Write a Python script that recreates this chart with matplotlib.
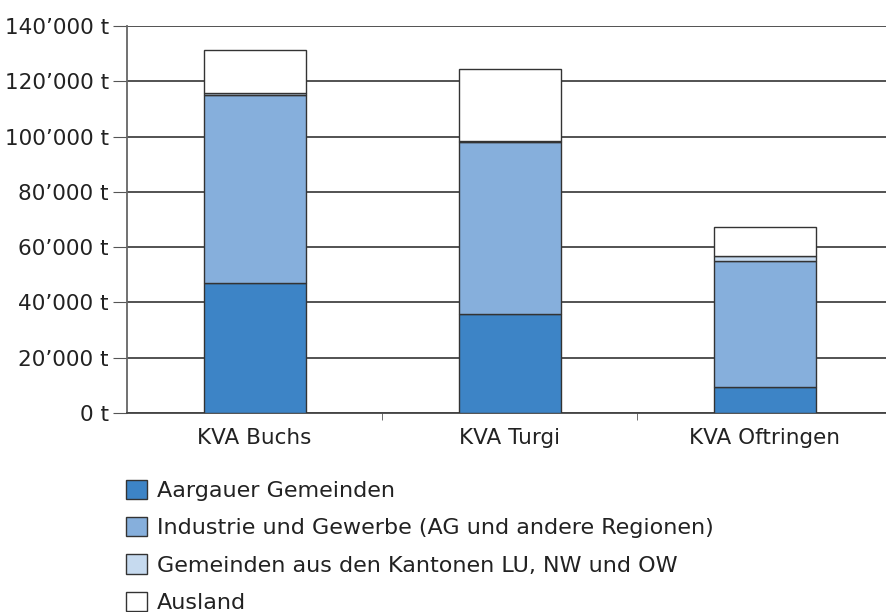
import matplotlib
matplotlib.use("Agg")
import matplotlib.pyplot as plt
import numpy as np
from matplotlib.ticker import FuncFormatter

plt.rcParams["font.family"] = ["DejaVu Sans"]

plants = ["KVA Buchs", "KVA Turgi", "KVA Oftringen"]
series_names = [
    "Aargauer Gemeinden",
    "Industrie und Gewerbe (AG und andere Regionen)",
    "Gemeinden aus den Kantonen LU, NW und OW",
    "Ausland",
]
aargau = [47000, 35800, 9400]
industrie = [68000, 62200, 45600]
kantone = [600, 500, 1800]
ausland = [15700, 25900, 10500]
colors = ["#3d84c6", "#86afdc", "#c6daef", "#ffffff"]

fig = plt.figure(figsize=(8.86, 6.12), dpi=100)
ax = fig.add_axes([127 / 886, 1 - 413 / 612, 1 - 127 / 886, (413 - 26) / 612])

x = np.arange(len(plants))
bottom = np.zeros(len(plants))
for vals, name, col in zip([aargau, industrie, kantone, ausland], series_names, colors):
    ax.bar(x, vals, width=0.4, bottom=bottom, color=col, edgecolor="#333333",
           linewidth=1.0, label=name, zorder=3)
    bottom += np.array(vals)

ax.set_xlim(-0.5, 2.475)
ax.set_ylim(0, 140000)
ax.set_yticks(np.arange(0, 140001, 20000))
ax.yaxis.set_major_formatter(FuncFormatter(lambda v, p: "0 t" if v == 0 else f"{int(v) // 1000}\u2019000 t"))
ax.yaxis.grid(True, color="#444444", linewidth=1.3, zorder=0)
ax.set_xticks(x)
ax.set_xticklabels(plants)
ax.set_xticks([0.5, 1.5], minor=True)
ax.tick_params(axis="x", which="major", length=0, pad=11, labelsize=15.5, colors="#222222")
ax.tick_params(axis="x", which="minor", length=5, color="#555555", direction="out")
ax.tick_params(axis="y", length=10, color="#555555", labelsize=15.5, pad=3, labelcolor="#222222")
for side in ["top", "right"]:
    ax.spines[side].set_visible(False)
ax.spines["left"].set_color("#666666")
ax.spines["bottom"].set_color("#444444")
ax.spines["left"].set_linewidth(1.3)
ax.spines["bottom"].set_linewidth(1.3)

leg = fig.legend(loc="upper left", bbox_to_anchor=(117 / 886, 1 - 471 / 612), frameon=False,
                 fontsize=16, handlelength=0.95, handleheight=0.95, handletextpad=0.45,
                 labelspacing=0.72, borderaxespad=0)
for t in leg.get_texts():
    t.set_color("#222222")

fig.savefig("out.png")
